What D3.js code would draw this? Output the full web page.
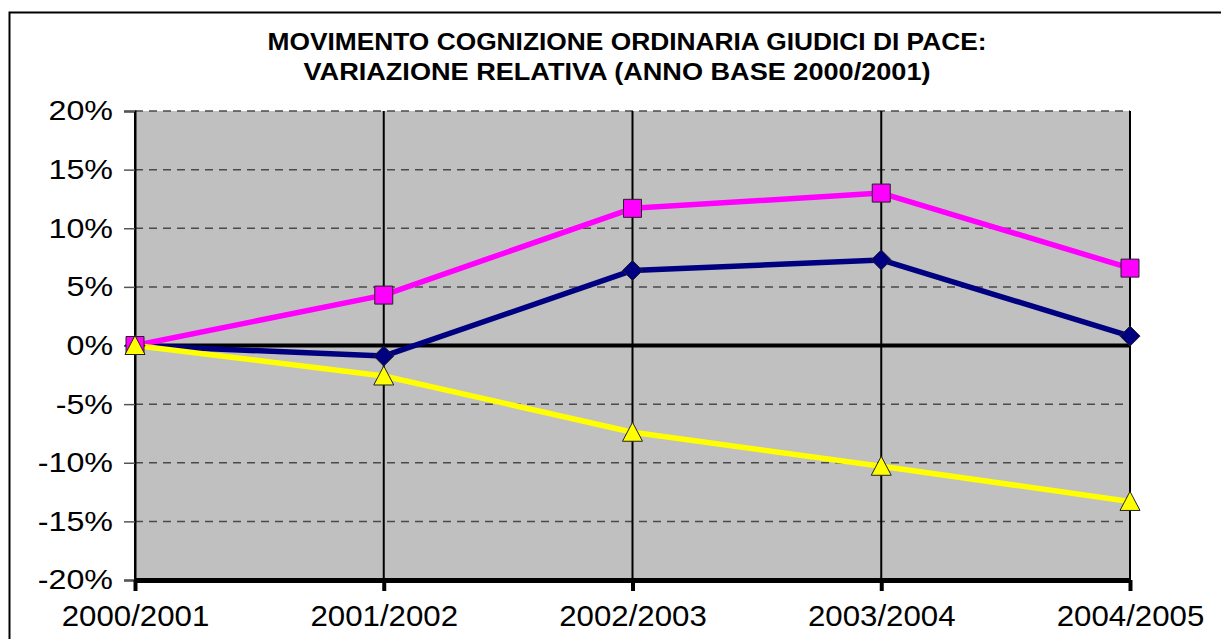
<!DOCTYPE html>
<html>
<head>
  <meta charset="utf-8">
  <title>Movimento cognizione ordinaria giudici di pace</title>
  <script src="https://d3js.org/d3.v7.min.js"></script>
</head>
<style>
  body { margin: 0; background: #fff; }
  text { font-family: Arial, 'Liberation Sans', sans-serif; }
</style>
<body>
  <div class="chart"></div>
  <script>
    // data
    var years = ["2000/2001", "2001/2002", "2002/2003", "2003/2004", "2004/2005"];
    var pinkSeries = [0, 0.043, 0.117, 0.130, 0.066];
    var navySeries = [0, -0.009, 0.064, 0.073, 0.008];
    var yellowSeries = [0, -0.026, -0.074, -0.103, -0.133];
    var yTicks = [-0.2, -0.15, -0.1, -0.05, 0, 0.05, 0.1, 0.15, 0.2];

    var series = [
      {values: navySeries, color: "#000080", marker: "diamond"},
      {values: pinkSeries, color: "#FF00FF", marker: "square"},
      {values: yellowSeries, color: "#FFFF00", marker: "triangle"}
    ];

    var W = 1221, H = 639;
    var plot = {left: 135, right: 1130, top: 111, bottom: 580};

    var svg = d3.select(".chart").append("svg")
        .attr("width", W)
        .attr("height", H);

    // outer frame
    svg.append("rect")
        .attr("x", 9.5).attr("y", 12.5)
        .attr("width", W + 20).attr("height", H + 20)
        .attr("fill", "none")
        .attr("stroke", "#000")
        .attr("stroke-width", 2);

    // title (reference text is a bit wider than Arial, so stretch it)
    var title = svg.append("text")
        .attr("text-anchor", "middle")
        .style("font-size", "23px")
        .style("font-weight", "700");
    title.append("tspan").attr("x", 627).attr("y", 50)
        .attr("textLength", 719).attr("lengthAdjust", "spacingAndGlyphs")
        .text("MOVIMENTO COGNIZIONE ORDINARIA GIUDICI DI PACE:");
    title.append("tspan").attr("x", 617).attr("y", 80)
        .attr("textLength", 627).attr("lengthAdjust", "spacingAndGlyphs")
        .text("VARIAZIONE RELATIVA (ANNO BASE 2000/2001)");

    var x = d3.scalePoint().domain(years).range([plot.left, plot.right]).padding(0);
    var y = d3.scaleLinear().domain([-0.2, 0.2]).range([plot.bottom, plot.top]);

    // plot background
    svg.append("rect")
        .attr("x", plot.left).attr("y", plot.top)
        .attr("width", plot.right - plot.left)
        .attr("height", plot.bottom - plot.top)
        .attr("fill", "#C0C0C0");

    // horizontal dashed gridlines
    svg.append("g").selectAll("line")
      .data(yTicks.filter(function(d) { return d !== 0 && d !== -0.2; }))
      .enter().append("line")
        .attr("x1", plot.left).attr("x2", plot.right)
        .attr("y1", function(d) { return y(d); })
        .attr("y2", function(d) { return y(d); })
        .attr("stroke", "#4a4a4a")
        .attr("stroke-width", 1.5)
        .attr("stroke-dasharray", "8,6");

    // vertical category gridlines
    svg.append("g").selectAll("line")
      .data(years)
      .enter().append("line")
        .attr("x1", function(d) { return x(d); })
        .attr("x2", function(d) { return x(d); })
        .attr("y1", plot.top).attr("y2", plot.bottom)
        .attr("stroke", "#000")
        .attr("stroke-width", 2);

    function stretch(sel, k) {
      sel.each(function() {
        var w = this.getComputedTextLength();
        d3.select(this).attr("textLength", w * k).attr("lengthAdjust", "spacingAndGlyphs");
      });
    }

    // y axis
    var pct = d3.format(".0%");
    var yAxis = svg.append("g")
        .attr("transform", "translate(" + plot.left + ",0)")
        .call(d3.axisLeft(y).tickValues(yTicks).tickSize(11).tickPadding(11)
          .tickFormat(function(d) { return pct(d).replace("\u2212", "-"); }));
    yAxis.select(".domain").attr("stroke-width", 2);
    yAxis.selectAll(".tick line").attr("stroke-width", 1.5).attr("stroke", "#555");
    yAxis.selectAll("text")
        .style("font-size", "28px")
        .style("font-family", "Arial, 'Liberation Sans', sans-serif")
        .attr("fill", "#000")
        .call(stretch, 1.15);

    // zero line
    svg.append("line")
        .attr("x1", plot.left).attr("x2", plot.right)
        .attr("y1", y(0)).attr("y2", y(0))
        .attr("stroke", "#000")
        .attr("stroke-width", 4);

    // x axis
    var xAxis = svg.append("g")
        .attr("transform", "translate(0," + plot.bottom + ")")
        .call(d3.axisBottom(x).tickSize(11).tickPadding(14).tickSizeOuter(0));
    xAxis.select(".domain").attr("stroke-width", 5);
    xAxis.selectAll(".tick line").attr("stroke-width", 4);
    xAxis.selectAll("text")
        .style("font-size", "30px")
        .style("font-family", "Arial, 'Liberation Sans', sans-serif")
        .attr("fill", "#000")
        .call(stretch, 1.04);

    // lines
    var line = d3.line()
        .x(function(d, i) { return x(years[i]); })
        .y(function(d) { return y(d); });

    series.forEach(function(s) {
      svg.append("path")
          .datum(s.values)
          .attr("fill", "none")
          .attr("stroke", s.color)
          .attr("stroke-width", 5.5)
          .attr("stroke-linejoin", "round")
          .attr("d", line);
    });

    // markers
    var symbols = {
      diamond: "M0,-10L10,0L0,10L-10,0Z",
      square: "M-9,-9H9V9H-9Z",
      triangle: "M0,-10L10,9L-10,9Z"
    };
    series.forEach(function(s) {
      svg.append("g").selectAll("path")
        .data(s.values)
        .enter().append("path")
          .attr("transform", function(d, i) {
            return "translate(" + x(years[i]) + "," + y(d) + ")";
          })
          .attr("d", symbols[s.marker])
          .attr("fill", s.color)
          .attr("stroke", "#222")
          .attr("stroke-width", 1);
    });
  </script>
</body>
</html>
